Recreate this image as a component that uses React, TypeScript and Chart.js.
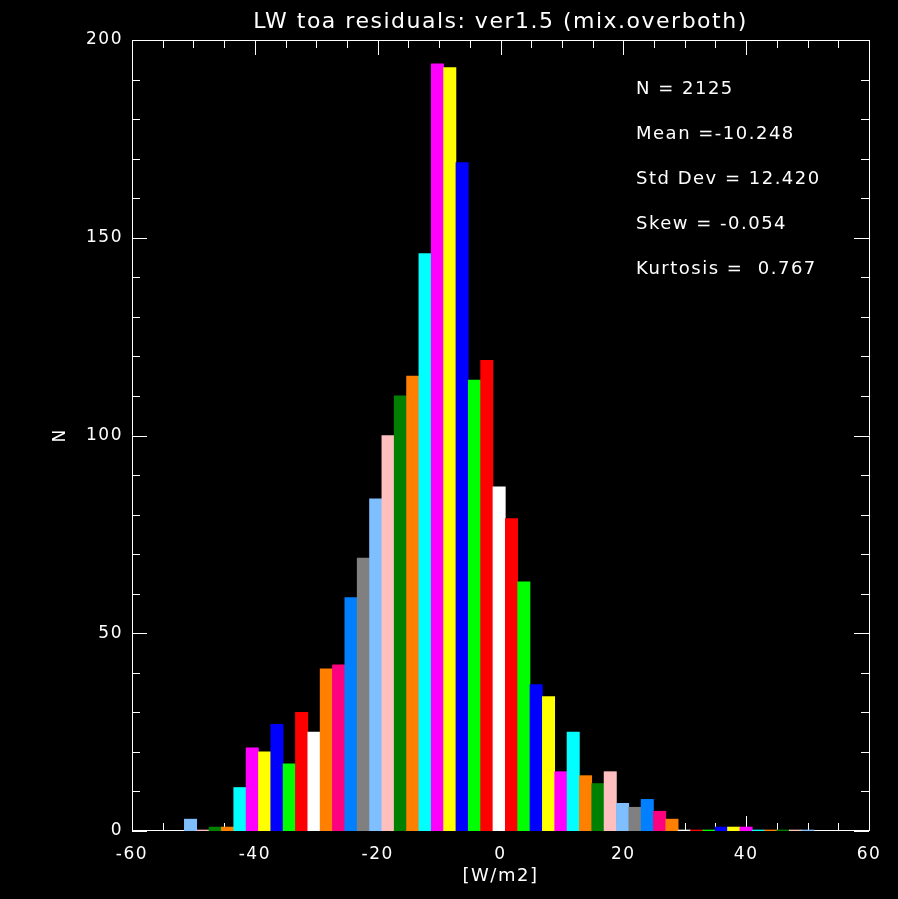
import React, { useEffect, useRef } from "react";
import { Chart, registerables } from "chart.js";

Chart.register(...registerables);

const titleText = "LW toa residuals: ver1.5 (mix.overboth)";
const xAxisLabel = "[W/m2]";
const yAxisLabel = "N";

const binCenters = [
  -50.47, -48.46, -46.45, -44.44, -42.43, -40.42, -38.41, -36.4, -34.39, -32.38,
  -30.37, -28.36, -26.35, -24.34, -22.33, -20.32, -18.31, -16.3, -14.29, -12.28,
  -10.27, -8.26, -6.25, -4.24, -2.23, -0.22, 1.79, 3.8, 5.81, 7.82,
  9.83, 11.84, 13.85, 15.86, 17.87, 19.88, 21.89, 23.9, 25.91, 27.92,
  29.93, 31.94, 33.95, 35.96, 37.97, 39.98, 41.99, 44.0, 46.01, 48.02, 50.03,
];

const counts = [
  3, 0, 1, 1, 11, 21, 20, 27, 17, 30,
  25, 41, 42, 59, 69, 84, 100, 110, 115, 146,
  194, 193, 169, 114, 119, 87, 79, 63, 37, 34,
  15, 25, 14, 12, 15, 7, 6, 8, 5, 3,
  0, 0, 0, 1, 1, 1, 0, 0, 0, 0, 0,
];

const LB = "#80bfff", PK = "#ffbfbf", DG = "#008000", OR = "#ff8000", CY = "#00ffff",
  MG = "#ff00ff", YL = "#ffff00", BL = "#0000ff", GR = "#00ff00", RD = "#ff0000",
  WH = "#ffffff", DP = "#ff0080", AZ = "#0080ff", GY = "#808080";

const barColors = [
  LB, PK, DG, OR, CY, MG, YL, BL, GR, RD,
  WH, OR, DP, AZ, GY, LB, PK, DG, OR, CY,
  MG, YL, BL, GR, RD, WH, RD, GR, BL, YL,
  MG, CY, OR, DG, PK, LB, GY, AZ, DP, OR,
  WH, RD, GR, BL, YL, MG, CY, OR, DG, PK, LB,
];

const statsLines = [
  "N = 2125",
  "Mean =-10.248",
  "Std Dev = 12.420",
  "Skew = -0.054",
  "Kurtosis =  0.767",
];

const xMin = -60, xMax = 60, xMajor = 20, xMinor = 5;
const yMin = 0, yMax = 200, yMajor = 50, yMinor = 10;

const FONT = "'DejaVu Sans', sans-serif";

const framePlugin = {
  id: "idlFrame",
  beforeDraw(chart: any) {
    (chart.ctx as any).letterSpacing = "1.5px";
  },
  beforeDatasetsDraw(chart: any) {
    const { ctx, chartArea, scales } = chart;
    const { left, right, top, bottom } = chartArea;
    ctx.save();
    ctx.strokeStyle = "#ffffff";
    ctx.lineWidth = 1;
    ctx.beginPath();
    ctx.rect(Math.round(left) + 0.5, Math.round(top) + 0.5, Math.round(right - left), Math.round(bottom - top) - 1);
    ctx.stroke();
    ctx.beginPath();
    for (let v = xMin; v <= xMax; v += xMinor) {
      const px = Math.round(scales.x.getPixelForValue(v)) + 0.5;
      const len = v % xMajor === 0 ? 15 : 8;
      ctx.moveTo(px, bottom);
      ctx.lineTo(px, bottom - len);
      ctx.moveTo(px, top);
      ctx.lineTo(px, top + len);
    }
    for (let v = yMin; v <= yMax; v += yMinor) {
      const py = Math.round(scales.y.getPixelForValue(v)) + 0.5;
      const len = v % yMajor === 0 ? 15 : 8;
      ctx.moveTo(left, py);
      ctx.lineTo(left + len, py);
      ctx.moveTo(right, py);
      ctx.lineTo(right - len, py);
    }
    ctx.stroke();
    ctx.restore();
  },
  afterDatasetsDraw(chart: any) {
    const { ctx } = chart;
    ctx.save();
    ctx.fillStyle = "#ffffff";
    ctx.font = `18px ${FONT}`;
    ctx.textAlign = "left";
    ctx.textBaseline = "middle";
    statsLines.forEach((s, i) => {
      ctx.fillText(s, 636, 89 + i * 45);
    });
    ctx.restore();
  },
};

export default function App() {
  const ref = useRef<HTMLCanvasElement>(null);
  useEffect(() => {
    document.body.style.margin = "0";
    document.body.style.background = "#000";
    const chart = new Chart(ref.current as HTMLCanvasElement, {
      type: "bar",
      data: {
        datasets: [
          {
            data: binCenters.map((x, i) => ({ x, y: counts[i] })),
            backgroundColor: barColors,
            borderWidth: 0,
            barPercentage: 1,
            categoryPercentage: 1,
            minBarLength: 1,
          } as any,
        ],
      },
      options: {
        responsive: false,
        animation: false,
        layout: { padding: { top: 0, right: 29, left: 0, bottom: 0 } },
        plugins: {
          legend: { display: false },
          tooltip: { enabled: false },
          title: {
            display: true,
            text: titleText,
            color: "#ffffff",
            fullSize: false,
            font: { family: FONT, size: 22, weight: "normal" },
            padding: { top: 9, bottom: 4.6 },
          },
        },
        scales: {
          x: {
            type: "linear",
            min: xMin,
            max: xMax,
            offset: false,
            grid: { display: false, drawTicks: false },
            border: { display: false },
            ticks: {
              stepSize: xMajor,
              color: "#ffffff",
              font: { family: FONT, size: 17 },
              padding: 13,
              maxRotation: 0,
            },
            title: {
              display: true,
              text: xAxisLabel,
              color: "#ffffff",
              font: { family: FONT, size: 18 },
              padding: { top: 0, bottom: 12 },
            },
            afterFit: (s: any) => {
              s.height = 68;
            },
          },
          y: {
            type: "linear",
            min: yMin,
            max: yMax,
            grid: { display: false, drawTicks: false },
            border: { display: false },
            ticks: {
              stepSize: yMajor,
              color: "#ffffff",
              font: { family: FONT, size: 17 },
              padding: 9,
            },
            title: {
              display: true,
              text: yAxisLabel,
              color: "#ffffff",
              font: { family: FONT, size: 17 },
              padding: { top: 50, bottom: 0 },
            },
            afterFit: (s: any) => {
              s.width = 132;
            },
          },
        },
      },
      plugins: [framePlugin],
    });
    return () => chart.destroy();
  }, []);
  return (
    <div style={{ width: 898, height: 899, background: "#000" }}>
      <canvas ref={ref} width={898} height={899} style={{ display: "block" }} />
    </div>
  );
}
